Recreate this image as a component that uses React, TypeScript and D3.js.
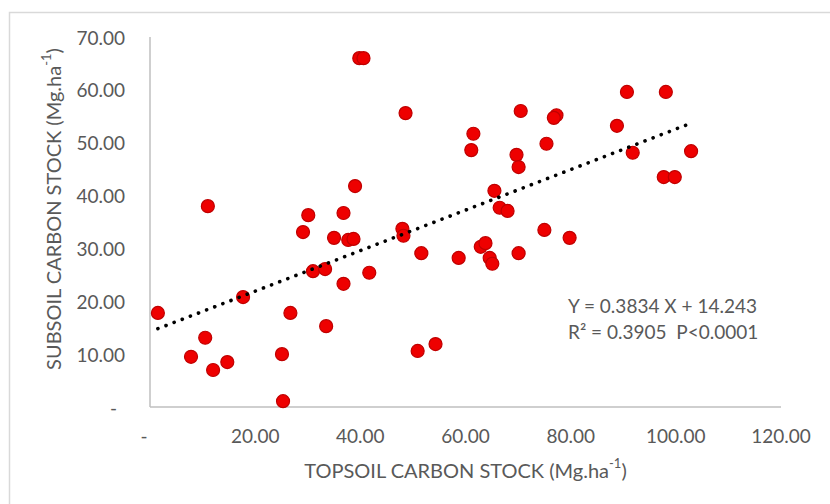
import React from "react";
import * as d3 from "d3";

// topsoil (x) vs subsoil (y) carbon stock, Mg.ha-1
const topsoil = [
  1.5, 17.7, 26.7, 10.5, 7.8, 12.0, 14.7, 25.1, 25.3, 11.0, 39.8, 40.6, 48.6, 39.0,
  30.1, 36.8, 29.1, 35.0, 37.7, 38.7, 48.0, 48.2, 51.6, 31.0, 33.3, 41.7, 36.8, 33.5,
  50.9, 54.3, 65.5, 66.5, 68.0, 75.0, 79.8, 58.7, 62.9, 63.8, 64.6, 65.1, 70.1, 70.5,
  77.3, 76.8, 61.5, 61.1, 75.4, 69.7, 70.1, 90.7, 98.1, 88.8, 91.8, 102.9, 97.7, 99.8,
];
const subsoil = [
  17.8, 20.8, 17.8, 13.1, 9.5, 7.0, 8.5, 10.0, 1.1, 38.0, 66.0, 66.0, 55.6, 41.8,
  36.3, 36.7, 33.1, 32.0, 31.6, 31.8, 33.7, 32.4, 29.1, 25.7, 26.1, 25.4, 23.3, 15.3,
  10.6, 11.9, 40.9, 37.7, 37.1, 33.5, 32.0, 28.2, 30.3, 31.0, 28.2, 27.1, 29.1, 56.0,
  55.2, 54.7, 51.7, 48.6, 49.8, 47.7, 45.4, 59.6, 59.6, 53.2, 48.1, 48.4, 43.5, 43.5,
];

const xTicks = [0, 20, 40, 60, 80, 100, 120];
const yTicks = [0, 10, 20, 30, 40, 50, 60, 70];

const slope = 0.3834;
const intercept = 14.243;
const eqLines = ["Y = 0.3834 X + 14.243", "R² = 0.3905  P<0.0001"];

const font = "Lato, 'Open Sans', sans-serif";
const grey = "#595959";

const fmt = (v: number) => (v === 0 ? "-" : v.toFixed(2));

export default function App() {
  const x = d3.scaleLinear().domain([0, 120]).range([150, 781]);
  const y = d3.scaleLinear().domain([0, 70]).range([407, 37]);

  const xExt = d3.extent(topsoil) as [number, number];
  const trend = d3
    .line<number>()
    .x((d) => x(d))
    .y((d) => y(slope * d + intercept))(xExt);

  return (
    <svg
      width={830}
      height={504}
      style={{ position: "absolute", left: 0, top: 0, background: "#fff" }}
      fontFamily={font}
    >
      <rect x={9.5} y={12.5} width={900} height={600} fill="#fff" stroke="#d9d9d9" strokeWidth={1.5} />

      {/* axes */}
      <line x1={x(0)} x2={x(0)} y1={y(70)} y2={y(0)} stroke="#bfbfbf" strokeWidth={1.5} />
      <line x1={x(0)} x2={x(120)} y1={y(0)} y2={y(0)} stroke="#bfbfbf" strokeWidth={1.5} />

      {yTicks.map((t) => (
        <text
          key={"y" + t}
          x={t === 0 ? 117 : 125}
          y={y(t)}
          textAnchor="end"
          dominantBaseline="central"
          fontSize={19}
          fill={grey}
        >
          {fmt(t)}
        </text>
      ))}
      {xTicks.map((t) => (
        <text
          key={"x" + t}
          x={t === 0 ? x(t) - 6 : x(t)}
          y={435}
          textAnchor="middle"
          dominantBaseline="central"
          fontSize={19}
          fill={grey}
        >
          {fmt(t)}
        </text>
      ))}

      {/* axis titles */}
      <text x={x(60)} y={470} textAnchor="middle" dominantBaseline="central" fontSize={20} fill={grey}>
        TOPSOIL CARBON STOCK (Mg.ha
        <tspan dy={-7} fontSize={13}>-1</tspan>
        <tspan dy={7}>)</tspan>
      </text>
      <text
        transform={`translate(53, ${(y(0) + y(70)) / 2 - 13}) rotate(-90)`}
        textAnchor="middle"
        dominantBaseline="central"
        fontSize={20}
        fill={grey}
      >
        SUBSOIL CARBON STOCK (Mg.ha
        <tspan dy={-7} fontSize={13}>-1</tspan>
        <tspan dy={7}>)</tspan>
      </text>

      {/* points */}
      {topsoil.map((v, i) => (
        <circle
          key={i}
          cx={x(v)}
          cy={y(subsoil[i])}
          r={6.5}
          fill="#ee0000"
          stroke="#c00000"
          strokeWidth={1.2}
        />
      ))}

      {/* trend line */}
      <path
        d={trend || ""}
        fill="none"
        stroke="#000"
        strokeWidth={3.6}
        strokeLinecap="round"
        strokeDasharray="0.1 8.6"
      />

      {eqLines.map((s, i) => (
        <text
          key={s}
          x={568}
          y={305 + i * 26}
          dominantBaseline="central"
          fontSize={19}
          fill={grey}
          style={{ whiteSpace: "pre" }}
        >
          {s}
        </text>
      ))}
    </svg>
  );
}
